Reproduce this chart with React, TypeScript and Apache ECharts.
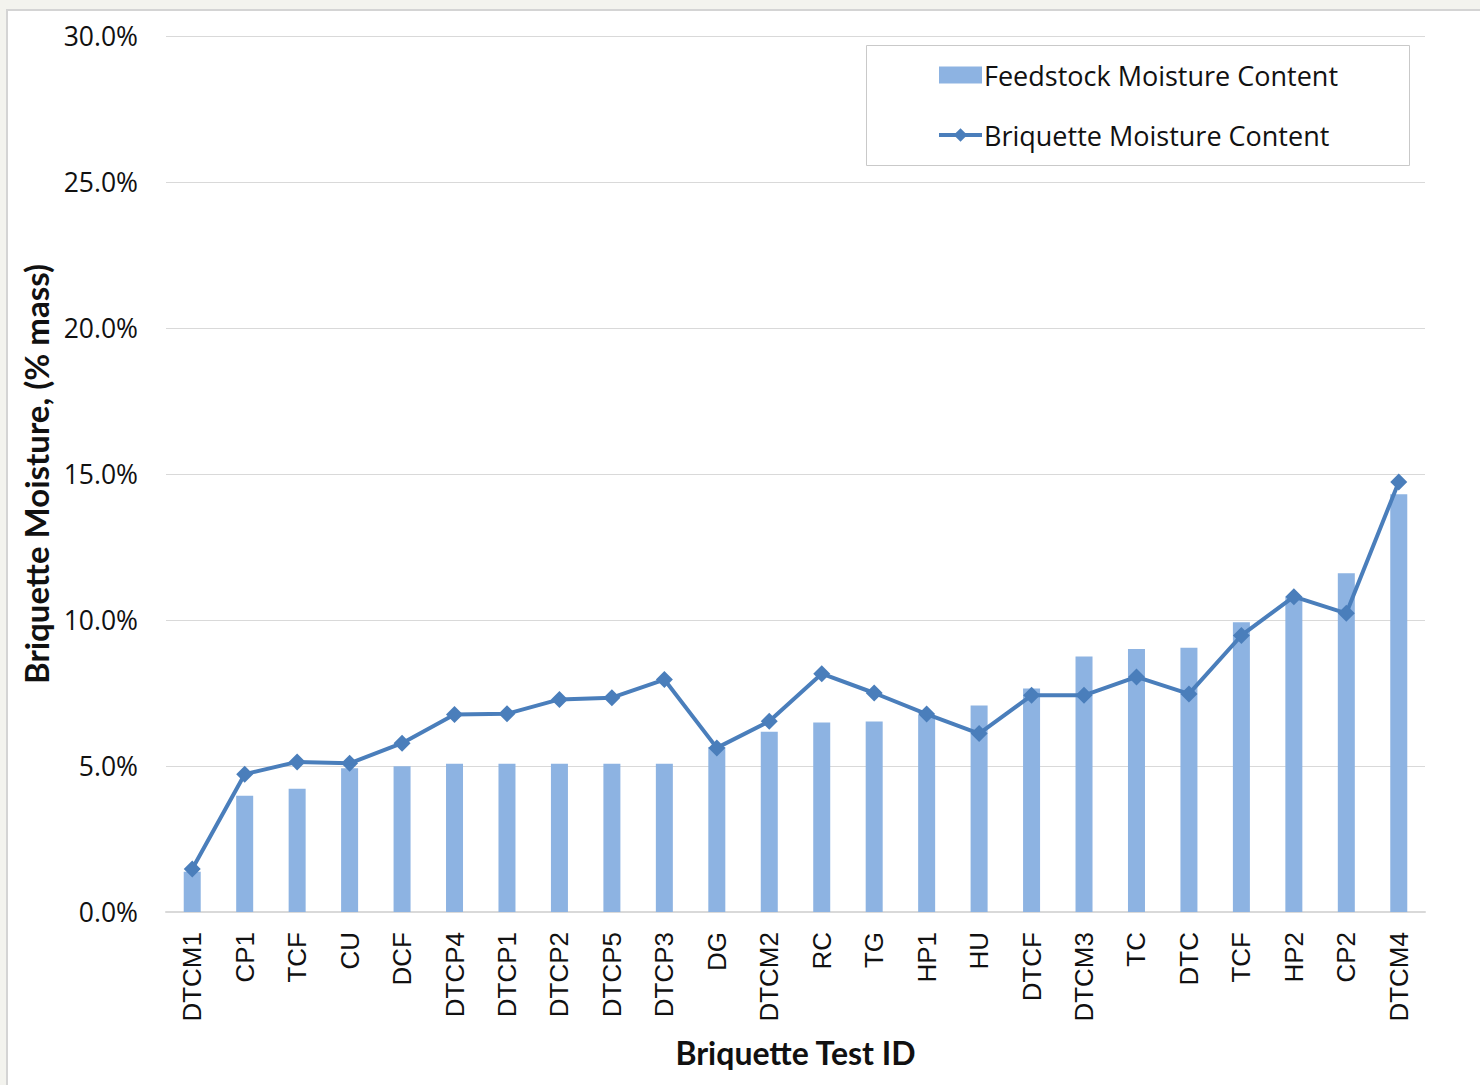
import React, { useEffect, useRef } from "react";
import * as echarts from "echarts";

// Test IDs in plotting order
const categories = [
  "DTCM1", "CP1", "TCF", "CU", "DCF", "DTCP4", "DTCP1", "DTCP2", "DTCP5", "DTCP3",
  "DG", "DTCM2", "RC", "TG", "HP1", "HU", "DTCF", "DTCM3", "TC", "DTC",
  "TCF", "HP2", "CP2", "DTCM4",
];

// Moisture content, % mass
const feedstockMoisture = [
  1.38, 3.98, 4.22, 4.92, 4.99, 5.08, 5.08, 5.08, 5.08, 5.08,
  5.65, 6.17, 6.49, 6.52, 6.75, 7.07, 7.65, 8.75, 9.01, 9.05,
  9.92, 10.8, 11.6, 14.31,
];
const briquetteMoisture = [
  1.47, 4.72, 5.14, 5.09, 5.78, 6.76, 6.79, 7.28, 7.34, 7.96,
  5.62, 6.53, 8.16, 7.5, 6.78, 6.11, 7.42, 7.42, 8.05, 7.47,
  9.47, 10.8, 10.23, 14.73,
];

const yTicks = { min: 0, max: 30, step: 5 };

const seriesNames = ["Feedstock Moisture Content", "Briquette Moisture Content"];

const W = 1480;
const H = 1085;
const LINE_BLUE = "#4a7ebb";

export default function App() {
  const ref = useRef<HTMLDivElement>(null);

  useEffect(() => {
    if (!ref.current) return;
    const chart = echarts.init(ref.current, null, { renderer: "svg" });
    const tickFont = "'Open Sans', 'Noto Sans', sans-serif";
    const titleFont = "Lato, 'Open Sans', sans-serif";
    chart.setOption({
      animation: false,
      backgroundColor: "#f3f3ee",
      graphic: [
        {
          type: "rect",
          z: -10,
          shape: { x: 7, y: 10, width: W, height: H },
          style: { fill: "#ffffff", stroke: "#d4d4d4", lineWidth: 2 },
        },
        {
          type: "rect",
          z: 1,
          shape: { x: 866.5, y: 45.5, width: 543, height: 120 },
          style: { fill: "#ffffff", stroke: "#c9c9c9", lineWidth: 1 },
        },
      ],
      grid: { left: 166, right: 55, top: 36, bottom: 173, containLabel: false },
      legend: {
        orient: "vertical",
        left: 937,
        top: 60,
        z: 5,
        itemWidth: 43,
        itemHeight: 17,
        itemGap: 30,
        padding: 0,
        data: [
          { name: seriesNames[0], icon: "rect" },
          {
            name: seriesNames[1],
            lineStyle: { width: 4, color: LINE_BLUE },
            itemStyle: { color: LINE_BLUE },
          },
        ],
        textStyle: {
          fontFamily: tickFont,
          fontSize: 27,
          color: "#111111",
          lineHeight: 30,
          padding: [0, 0, 0, -3],
        },
      },
      xAxis: {
        type: "category",
        data: categories,
        name: "Briquette Test ID",
        nameLocation: "middle",
        nameGap: 124,
        nameTextStyle: {
          fontFamily: titleFont,
          fontWeight: "bold",
          fontSize: 32,
          color: "#111111",
        },
        axisLine: { lineStyle: { color: "#d9d9d9", width: 2 } },
        axisTick: { show: false },
        axisLabel: {
          rotate: 90,
          margin: 20,
          interval: 0,
          fontFamily: "'Liberation Sans', Arial, sans-serif",
          fontSize: 26,
          color: "#111111",
        },
      },
      yAxis: {
        type: "value",
        min: yTicks.min,
        max: yTicks.max,
        interval: yTicks.step,
        name: "Briquette Moisture, (% mass)",
        nameLocation: "middle",
        nameGap: 110,
        nameTextStyle: {
          fontFamily: titleFont,
          fontWeight: "bold",
          fontSize: 33,
          color: "#111111",
        },
        axisLine: { show: false },
        axisTick: { show: false },
        splitLine: { lineStyle: { color: "#d9d9d9", width: 1 } },
        axisLabel: {
          margin: 28,
          fontFamily: tickFont,
          fontSize: 26.5,
          color: "#111111",
          formatter: (v: number) => `${v.toFixed(1)}%`,
        },
      },
      series: [
        {
          name: seriesNames[0],
          type: "bar",
          data: feedstockMoisture,
          barWidth: 17,
          itemStyle: { color: "#8db3e2" },
        },
        {
          name: seriesNames[1],
          type: "line",
          data: briquetteMoisture,
          symbol: "diamond",
          symbolSize: 17,
          lineStyle: { color: LINE_BLUE, width: 4 },
          itemStyle: { color: LINE_BLUE },
        },
      ],
    });
    return () => chart.dispose();
  }, []);

  return (
    <div
      ref={ref}
      style={{ position: "absolute", left: 0, top: 0, width: W, height: H }}
    />
  );
}
